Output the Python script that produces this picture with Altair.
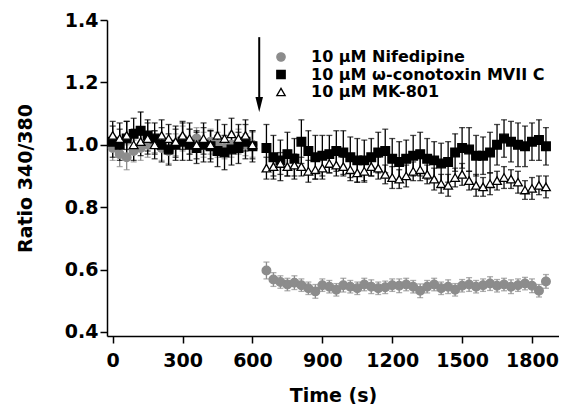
import altair as alt
import pandas as pd

series_names = ["10 \u00b5M Nifedipine", "10 \u00b5M \u03c9-conotoxin MVII C", "10 \u00b5M MK-801"]
series_colors = ["#8c8c8c", "black", "black"]

time_s = [0, 30, 60, 90, 120, 150, 180, 210, 240, 270, 300, 330, 360, 390, 420, 450, 480, 510, 540, 570, 600,
          660, 690, 720, 750, 780, 810, 840, 870, 900, 930, 960, 990, 1020, 1050, 1080, 1110, 1140, 1170, 1200,
          1230, 1260, 1290, 1320, 1350, 1380, 1410, 1440, 1470, 1500, 1530, 1560, 1590, 1620, 1650, 1680, 1710,
          1740, 1770, 1800, 1830, 1860]

nif_mean = [0.99, 0.97, 0.96, 0.98, 0.99, 1.00, 1.01, 0.99, 0.98, 1.00, 1.02, 1.01, 1.02, 1.00, 1.01, 1.00,
            0.99, 1.00, 1.01, 1.00, 1.00,
            0.597, 0.568, 0.560, 0.552, 0.558, 0.550, 0.540, 0.530, 0.550, 0.545, 0.535, 0.550, 0.545, 0.540,
            0.552, 0.545, 0.540, 0.543, 0.550, 0.548, 0.552, 0.545, 0.532, 0.545, 0.552, 0.540, 0.545, 0.535,
            0.548, 0.552, 0.545, 0.550, 0.555, 0.548, 0.552, 0.545, 0.550, 0.555, 0.548, 0.532, 0.562]
nif_sem = [0.04, 0.04, 0.04, 0.035, 0.04, 0.04, 0.035, 0.04, 0.04, 0.035, 0.04, 0.04, 0.035, 0.04, 0.04, 0.04,
           0.035, 0.04, 0.04, 0.035, 0.04,
           0.027, 0.022, 0.02, 0.02, 0.022, 0.02, 0.02, 0.022, 0.02, 0.02, 0.02, 0.022, 0.02, 0.02, 0.02,
           0.022, 0.02, 0.02, 0.02, 0.022, 0.02, 0.02, 0.022, 0.02, 0.02, 0.02, 0.022, 0.02, 0.02, 0.022,
           0.02, 0.02, 0.022, 0.02, 0.02, 0.022, 0.02, 0.02, 0.022, 0.02, 0.022]

cono_mean = [1.01, 1.00, 1.02, 1.035, 1.045, 1.03, 1.02, 1.00, 0.985, 1.00, 1.01, 1.00, 0.99, 1.00, 0.995,
             0.98, 0.975, 0.985, 0.99, 1.01, 0.995,
             0.99, 0.96, 0.95, 0.97, 0.955, 1.01, 0.98, 0.96, 0.965, 0.97, 0.98, 0.975, 0.96, 0.95, 0.95,
             0.96, 0.975, 0.98, 0.955, 0.945, 0.955, 0.965, 0.97, 0.955, 0.95, 0.94, 0.945, 0.975, 0.99,
             0.985, 0.965, 0.965, 0.975, 1.00, 1.02, 1.01, 1.00, 0.995, 1.01, 1.015, 0.995]
cono_sem = [0.05, 0.05, 0.055, 0.05, 0.06, 0.05, 0.05, 0.055, 0.05, 0.05, 0.06, 0.05, 0.05, 0.055, 0.05,
            0.05, 0.055, 0.05, 0.05, 0.055, 0.05,
            0.075, 0.07, 0.065, 0.07, 0.065, 0.07, 0.065, 0.07, 0.065, 0.06, 0.065, 0.07, 0.065, 0.07, 0.065,
            0.06, 0.065, 0.07, 0.065, 0.065, 0.06, 0.065, 0.07, 0.065, 0.06, 0.065, 0.065, 0.06, 0.065, 0.07,
            0.065, 0.06, 0.065, 0.065, 0.06, 0.065, 0.07, 0.065, 0.06, 0.065, 0.06]

mk_mean = [1.03, 1.02, 1.03, 1.00, 1.01, 1.02, 1.00, 1.03, 1.02, 1.01, 1.03, 1.02, 1.00, 1.02, 1.00, 1.03,
           1.02, 1.035, 1.02, 1.03, 1.00,
           0.925, 0.93, 0.94, 0.93, 0.935, 0.93, 0.915, 0.92, 0.925, 0.94, 0.935, 0.93, 0.92, 0.91, 0.915,
           0.93, 0.925, 0.905, 0.895, 0.89, 0.90, 0.915, 0.92, 0.905, 0.89, 0.875, 0.87, 0.895, 0.905,
           0.885, 0.87, 0.865, 0.875, 0.885, 0.895, 0.89, 0.88, 0.855, 0.86, 0.87, 0.865]
mk_sem = [0.045, 0.05, 0.045, 0.05, 0.045, 0.05, 0.045, 0.05, 0.045, 0.05, 0.045, 0.05, 0.045, 0.05, 0.045,
          0.05, 0.045, 0.05, 0.045, 0.05, 0.045,
          0.035, 0.03, 0.035, 0.03, 0.035, 0.03, 0.035, 0.03, 0.035, 0.03, 0.035, 0.03, 0.035, 0.03, 0.035,
          0.03, 0.035, 0.03, 0.035, 0.03, 0.035, 0.03, 0.035, 0.03, 0.035, 0.03, 0.035, 0.03, 0.035, 0.03,
          0.035, 0.03, 0.035, 0.03, 0.035, 0.03, 0.035, 0.03, 0.035, 0.03, 0.035]

arrow_time = [629]
arrow_top = [1.345]
arrow_bottom = [1.15]
arrow_head = [1.129]

x_ticks = [0, 300, 600, 900, 1200, 1500, 1800]
y_ticks = [0.4, 0.6, 0.8, 1.0, 1.2, 1.4]

rows = []
for name, means, sems in zip(series_names, [nif_mean, cono_mean, mk_mean], [nif_sem, cono_sem, mk_sem]):
    for t, m, s in zip(time_s, means, sems):
        rows.append({"series": name, "time": t, "mean": m, "lo": m - s, "hi": m + s})
df = pd.DataFrame(rows)

FONT = "DejaVu Sans"
gray = series_colors[0]

xscale = alt.Scale(domain=[-24.5, 1916], nice=False, zero=False)
yscale = alt.Scale(domain=[0.387, 1.4], nice=False, zero=False)

x_enc = alt.X("time:Q", scale=xscale,
              axis=alt.Axis(values=x_ticks, title="Time (s)", format="d", labelPadding=8, titlePadding=16))
y_enc = alt.Y("mean:Q", scale=yscale,
              axis=alt.Axis(values=y_ticks, title="Ratio 340/380", format=".1f", labelPadding=2, titlePadding=29))

err_layers = []
for name, col in zip(series_names, series_colors):
    base = alt.Chart(df).transform_filter(alt.datum.series == name)
    err_layers.append(base.mark_rule(strokeWidth=1.3, color=col).encode(
        x=alt.X("time:Q", scale=xscale), y=alt.Y("lo:Q", scale=yscale), y2="hi:Q"))
    err_layers.append(base.mark_tick(orient="horizontal", size=6, thickness=1.3, color=col).encode(
        x=alt.X("time:Q", scale=xscale), y=alt.Y("hi:Q", scale=yscale)))
    err_layers.append(base.mark_tick(orient="horizontal", size=6, thickness=1.3, color=col).encode(
        x=alt.X("time:Q", scale=xscale), y=alt.Y("lo:Q", scale=yscale)))

legend = alt.Legend(title=None, orient="none", legendX=166, legendY=29, padding=0,
                    labelFont=FONT, labelFontWeight="bold", labelFontSize=16, labelColor="black",
                    labelOffset=22, rowPadding=1.5, symbolSize=70, symbolStrokeWidth=1.3, labelLimit=400)

points = alt.Chart(df).mark_point(filled=False, size=75, strokeWidth=1.3, opacity=1).encode(
    x=x_enc, y=y_enc,
    shape=alt.Shape("series:N", scale=alt.Scale(domain=series_names, range=["circle", "square", "triangle-up"]),
                    legend=legend),
    fill=alt.Fill("series:N", scale=alt.Scale(domain=series_names, range=[gray, "black", "white"])),
    stroke=alt.Stroke("series:N", scale=alt.Scale(domain=series_names, range=[gray, "black", "black"])),
)

arrow_df = pd.DataFrame({"t": arrow_time, "top": arrow_top, "bottom": arrow_bottom, "head": arrow_head})
arrow_line = alt.Chart(arrow_df).mark_rule(strokeWidth=2, color="black").encode(
    x=alt.X("t:Q", scale=xscale), y=alt.Y("top:Q", scale=yscale), y2="bottom:Q")
arrow_tip = alt.Chart(arrow_df).mark_point(shape="M-0.5,-1L0.5,-1L0,1Z", size=225, filled=True,
                                           color="black", opacity=1).encode(
    x=alt.X("t:Q", scale=xscale), y=alt.Y("head:Q", scale=yscale))

chart = alt.layer(*err_layers, points, arrow_line, arrow_tip).properties(
    width=452, height=316,
    autosize=alt.AutoSizeParams(type="none"),
    padding={"left": 99, "top": 12, "right": 0, "bottom": 68},
    background="white",
).configure_view(stroke=None).configure_axis(
    labelFont=FONT, labelFontWeight="bold", labelFontSize=19, labelColor="black",
    titleFont=FONT, titleFontWeight="bold", titleFontSize=19, titleColor="black",
    domainColor="black", domainWidth=1.5, tickColor="black", tickWidth=1.5, tickSize=7, grid=False,
)

chart.save("out.html", embed_options={"renderer": "svg", "actions": False})
